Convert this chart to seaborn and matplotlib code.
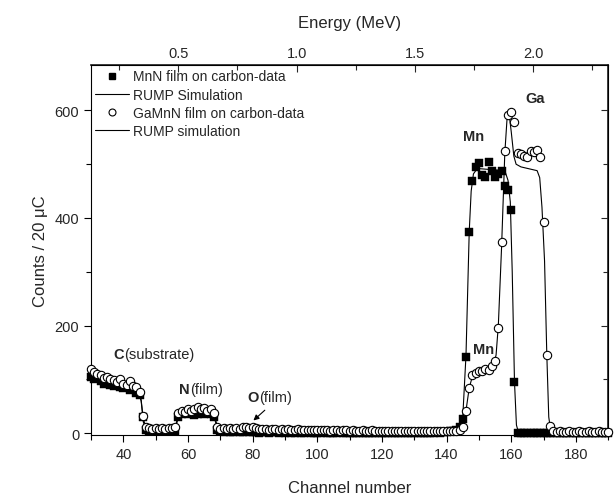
import numpy as np
import pandas as pd
import seaborn as sns
import matplotlib.pyplot as plt
from matplotlib.lines import Line2D
from matplotlib.ticker import MultipleLocator

# RBS spectra: channel number vs counts
channel = np.arange(30, 191)

mnn_counts = [
    105, 100, 102, 96, 92, 95, 90, 88, 92, 86,      # 30-39
    84, 88, 80, 82, 75, 70, 30, 6, 4, 5,            # 40-49
    3, 4, 5, 3, 4, 5, 4, 30, 36, 38,                # 50-59
    35, 37, 34, 36, 38, 35, 37, 36, 30, 6,          # 60-69
    3, 2, 3, 2, 2, 3, 2, 2, 3, 2,                   # 70-79
    2, 2, 1, 2, 2, 1, 2, 2, 1, 2,                   # 80-89
    1, 2, 1, 1, 2, 1, 1, 2, 1, 1,                   # 90-99
    1, 1, 2, 1, 1, 1, 1, 2, 1, 1,                   # 100-109
    1, 1, 1, 1, 1, 1, 1, 1, 1, 1,                   # 110-119
    1, 1, 1, 1, 1, 1, 1, 1, 1, 1,                   # 120-129
    1, 1, 1, 1, 1, 1, 1, 2, 1, 2,                   # 130-139
    2, 3, 4, 6, 12, 27, 142, 374, 468, 495,         # 140-149
    503, 480, 476, 505, 488, 476, 482, 487, 460, 452,  # 150-159
    415, 95, 0, 0, 0, 0, 0, 0, 0, 0,                # 160-169
    0, 0, 0, 0, 0, 0, 0, 0, 0, 0,                   # 170-179
    0, 0, 0, 0, 0, 0, 0, 0, 0, 0,                   # 180-189
    0,                                              # 190
]

gamnn_counts = [
    120, 113, 110, 108, 102, 105, 100, 98, 95, 100,  # 30-39
    92, 90, 96, 88, 85, 76, 32, 12, 9, 8,            # 40-49
    10, 7, 9, 8, 10, 9, 12, 38, 42, 40,              # 50-59
    44, 42, 45, 48, 44, 46, 42, 44, 38, 12,          # 60-69
    8, 9, 7, 9, 8, 10, 8, 11, 12, 10,                # 70-79
    12, 9, 8, 7, 8, 6, 7, 8, 6, 7,                   # 80-89
    6, 7, 5, 6, 7, 5, 6, 5, 6, 5,                    # 90-99
    6, 5, 5, 6, 4, 5, 5, 4, 5, 5,                    # 100-109
    4, 5, 4, 4, 5, 4, 4, 5, 4, 4,                    # 110-119
    4, 3, 4, 4, 3, 4, 3, 4, 3, 3,                    # 120-129
    4, 3, 3, 4, 3, 3, 3, 4, 3, 3,                    # 130-139
    3, 4, 3, 4, 5, 12, 41, 83, 108, 112,             # 140-149
    116, 115, 120, 118, 125, 134, 195, 355, 525, 592,  # 150-159
    598, 578, 521, 519, 515, 513, 524, 522, 526, 514,  # 160-169
    393, 145, 14, 3, 2, 3, 2, 2, 3, 2,               # 170-179
    2, 3, 2, 2, 3, 2, 2, 3, 2, 2,                    # 180-189
    2,                                               # 190
]

# RUMP simulations (vertices of the simulated curves)
mnn_sim_ch = [30, 33, 36, 40, 43, 44.5, 45.5, 46.2, 47, 50, 55, 56.3, 57, 58, 62, 67,
              68, 69, 70, 80, 100, 140, 143, 144, 145, 146, 147, 147.6, 148.3, 149.5,
              158, 159, 159.7, 160.3, 161, 161.6, 162.2, 163, 190]
mnn_sim = [101, 96, 91, 87, 83, 78, 60, 20, 8, 6, 6, 12, 30, 36, 38, 37,
           32, 10, 4, 2, 1, 1, 4, 10, 30, 145, 375, 450, 482, 492,
           488, 470, 430, 300, 95, 15, 2, 0, 0]

gamnn_sim_ch = [30, 33, 36, 40, 43, 44.5, 45.5, 46.2, 47, 50, 55, 56.3, 57, 58, 62, 67,
                68, 69, 70, 80, 100, 140, 143, 144, 145, 146, 147, 148, 149, 153,
                154.5, 155.3, 156, 157, 158, 158.7, 159.2, 160, 160.8, 161.5, 163, 168,
                168.8, 169.5, 170.3, 171, 171.6, 172.2, 173, 190]
gamnn_sim = [115, 108, 102, 95, 89, 83, 62, 25, 12, 9, 9, 16, 36, 42, 45, 44,
             37, 14, 8, 7, 5, 3, 5, 8, 15, 42, 84, 106, 113, 120,
             128, 145, 200, 345, 520, 585, 600, 560, 515, 500, 495, 488,
             475, 420, 320, 145, 30, 4, 0, 0]

# energy calibration of the top axis
mev_per_channel = 0.01366
mev_offset = -0.2786

data = pd.DataFrame({"channel": channel, "MnN": mnn_counts, "GaMnN": gamnn_counts})

sns.set_theme(style="ticks")
plt.rcParams["font.family"] = ["Liberation Sans", "DejaVu Sans"]

fig = plt.figure(figsize=(6.15, 5.02), dpi=100)
ax = fig.add_axes([0.148, 0.131, 0.841, 0.737])

sns.lineplot(x=mnn_sim_ch, y=mnn_sim, color="black", lw=0.8, ax=ax, zorder=2)
sns.lineplot(x=gamnn_sim_ch, y=gamnn_sim, color="black", lw=0.8, ax=ax, zorder=2)
sns.scatterplot(data=data, x="channel", y="MnN", marker="s", s=26, color="black",
                edgecolor="black", linewidth=0.3, ax=ax, zorder=3, clip_on=False)
sns.scatterplot(data=data, x="channel", y="GaMnN", marker="o", s=36, facecolor="white",
                edgecolor="black", linewidth=0.8, ax=ax, zorder=4, clip_on=False)

ax.set_xlim(30, 190)
ax.set_ylim(-4, 684)
ax.xaxis.set_major_locator(MultipleLocator(20))
ax.xaxis.set_minor_locator(MultipleLocator(10))
ax.yaxis.set_major_locator(MultipleLocator(200))
ax.yaxis.set_minor_locator(MultipleLocator(100))
ax.tick_params(which="both", direction="out", labelsize=10.5, width=0.8, color="black")
ax.tick_params(which="major", length=5)
ax.tick_params(which="minor", length=3.5)
for s in ax.spines.values():
    s.set_linewidth(0.8)
    s.set_color("black")

ax.set_xlabel("Channel number", fontsize=12, labelpad=14)
ax.set_ylabel("Counts / 20 \u03bcC", fontsize=12, labelpad=5)

top = ax.secondary_xaxis("top", functions=(lambda c: c * mev_per_channel + mev_offset,
                                           lambda e: (e - mev_offset) / mev_per_channel))
top.set_xticks([0.5, 1.0, 1.5, 2.0])
top.xaxis.set_minor_locator(MultipleLocator(0.25))
top.tick_params(which="both", direction="in", labelsize=10.5, width=0.8)
top.tick_params(which="major", length=5)
top.tick_params(which="minor", length=3.5)
top.set_xlabel("Energy (MeV)", fontsize=12, labelpad=14)

right = ax.secondary_yaxis("right")
right.yaxis.set_major_locator(MultipleLocator(200))
right.yaxis.set_minor_locator(MultipleLocator(100))
right.tick_params(which="both", direction="in", labelright=False, width=0.8)
right.tick_params(which="major", length=5)
right.tick_params(which="minor", length=3.5)


def label(x, y, bold, rest):
    t = ax.text(x, y, bold, fontsize=10.5, fontweight="bold", va="baseline")
    ax.annotate(rest, xy=(1, 0), xycoords=t, va="bottom", fontsize=10.5)


label(36.8, 140, "C", "(substrate)")
label(57.3, 75, "N", "(film)")
label(78.5, 60, "O", "(film)")
ax.annotate("", xy=(79.6, 20), xytext=(84.4, 46),
            arrowprops=dict(arrowstyle="-|>", color="black", lw=0.8, mutation_scale=8))
ax.text(145.2, 545, "Mn", fontsize=10.5, fontweight="bold")
ax.text(148.2, 148, "Mn", fontsize=10.5, fontweight="bold")
ax.text(164.3, 615, "Ga", fontsize=10.5, fontweight="bold")

handles = [
    Line2D([], [], marker="s", color="black", ls="none", markersize=5),
    Line2D([], [], color="black", lw=0.8),
    Line2D([], [], marker="o", mfc="white", mec="black", mew=0.8, ls="none", markersize=5),
    Line2D([], [], color="black", lw=0.8),
]
names = ["MnN film on carbon-data", "RUMP Simulation",
         "GaMnN film on carbon-data", "RUMP simulation"]
ax.legend(handles, names, loc="upper left", frameon=False, fontsize=10,
          handlelength=2.4, handletextpad=0.3, labelspacing=0.3,
          borderaxespad=0.2, borderpad=0.1)

fig.savefig("out.png", dpi=100)
